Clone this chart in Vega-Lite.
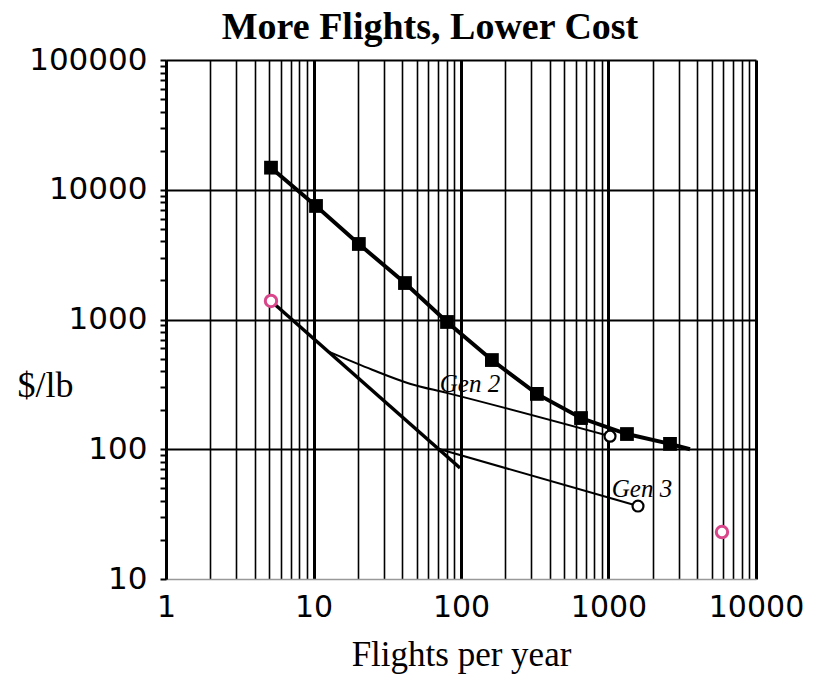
{
  "$schema": "https://vega.github.io/schema/vega-lite/v6.json",
  "width": 590,
  "height": 519,
  "autosize": {"type": "none"},
  "padding": {"left": 166, "top": 60, "right": 57, "bottom": 102},
  "background": "white",
  "title": {
    "text": "More Flights, Lower Cost",
    "font": "Liberation Serif",
    "fontSize": 38,
    "fontWeight": "bold",
    "color": "black",
    "anchor": "middle",
    "dx": -31,
    "offset": -3
  },
  "config": {"view": {"stroke": null}},
  "datasets": {
    "main": [
      {"x": 5.15, "y": 14800, "o": 1, "marker": true},
      {"x": 10.4, "y": 7500, "o": 2, "marker": true},
      {"x": 20.3, "y": 3820, "o": 3, "marker": true},
      {"x": 41.7, "y": 1910, "o": 4, "marker": true},
      {"x": 80.4, "y": 957, "o": 5, "marker": true},
      {"x": 162, "y": 487, "o": 6, "marker": true},
      {"x": 327, "y": 267, "o": 7, "marker": true},
      {"x": 651, "y": 174, "o": 8, "marker": true},
      {"x": 1334, "y": 131, "o": 9, "marker": true},
      {"x": 2612, "y": 110, "o": 10, "marker": true},
      {"x": 3570, "y": 100, "o": 11, "marker": false}
    ],
    "low": [
      {"x": 5.15, "y": 1390, "o": 1},
      {"x": 98.5, "y": 71.7, "o": 2}
    ],
    "gens": [
      {"series": "Gen 2", "x": 12.9, "y": 560, "o": 1},
      {"series": "Gen 2", "x": 25, "y": 410, "o": 2},
      {"series": "Gen 2", "x": 45, "y": 320, "o": 3},
      {"series": "Gen 2", "x": 80, "y": 272, "o": 4},
      {"series": "Gen 2", "x": 1024, "y": 126, "o": 5},
      {"series": "Gen 3", "x": 72, "y": 100, "o": 1},
      {"series": "Gen 3", "x": 1585, "y": 36.5, "o": 2}
    ],
    "ends": [
      {"series": "Gen 2", "x": 1024, "y": 126},
      {"series": "Gen 3", "x": 1585, "y": 36.5}
    ],
    "pink": [
      {"x": 5.15, "y": 1390},
      {"x": 5880, "y": 23}
    ],
    "labels": [
      {"x": 115, "y": 318, "label": "Gen 2"},
      {"x": 1687, "y": 49.4, "label": "Gen 3"}
    ]
  },
  "encoding": {
    "x": {
      "field": "x",
      "type": "quantitative",
      "scale": {"type": "log", "domain": [1, 10000], "nice": false},
      "axis": {
        "values": [1,2,3,4,5,6,7,8,9,10,20,30,40,50,60,70,80,90,100,200,300,400,500,600,700,800,900,1000,2000,3000,4000,5000,6000,7000,8000,9000,10000],
        "title": "Flights  per year",
        "titleFont": "Liberation Serif",
        "titleFontSize": 35,
        "titleFontWeight": "normal",
        "titleColor": "black",
        "titleY": 75,
        "titleBaseline": "middle",
        "labelExpr": "indexof([1,10,100,1000,10000], datum.value) >= 0 ? format(datum.value, 'd') : ''",
        "labelFont": "DejaVu Sans",
        "labelFontSize": 30,
        "labelColor": "black",
        "labelPadding": 13,
        "labelOverlap": false,
        "labelFlush": false,
        "ticks": false,
        "domainColor": "#999999",
        "domainWidth": 1.5,
        "grid": true,
        "gridColor": "black",
        "gridOpacity": 1,
        "gridWidth": {"condition": {"test": "indexof([1,10,100,1000,10000], datum.value) >= 0", "value": 3}, "value": 1.6}
      }
    },
    "y": {
      "field": "y",
      "type": "quantitative",
      "scale": {"type": "log", "domain": [10, 100000], "nice": false},
      "axis": {
        "values": [10,20,30,40,50,60,70,80,90,100,200,300,400,500,600,700,800,900,1000,2000,3000,4000,5000,6000,7000,8000,9000,10000,20000,30000,40000,50000,60000,70000,80000,90000,100000],
        "title": "$/lb",
        "titleAngle": 0,
        "titleX": -121,
        "titleY": 325,
        "titleAlign": "center",
        "titleBaseline": "middle",
        "titleFont": "Liberation Serif",
        "titleFontSize": 36,
        "titleFontWeight": "normal",
        "titleColor": "black",
        "labelExpr": "indexof([10,100,1000,10000,100000], datum.value) >= 0 ? format(datum.value, 'd') : ''",
        "labelFont": "DejaVu Sans",
        "labelFontSize": 31,
        "labelColor": "black",
        "labelPadding": 13,
        "labelOverlap": false,
        "labelFlush": false,
        "tickSize": 6,
        "tickWidth": 2,
        "tickColor": "black",
        "domainColor": "black",
        "domainWidth": 3,
        "grid": true,
        "gridColor": "black",
        "gridWidth": 2,
        "gridOpacity": {"condition": {"test": "indexof([100,1000,10000,100000], datum.value) >= 0", "value": 1}, "value": 0}
      }
    }
  },
  "layer": [
    {
      "data": {"name": "main"},
      "mark": {"type": "line", "color": "black", "strokeWidth": 4},
      "encoding": {"order": {"field": "o"}}
    },
    {
      "data": {"name": "low"},
      "mark": {"type": "line", "color": "black", "strokeWidth": 3.5},
      "encoding": {"order": {"field": "o"}}
    },
    {
      "data": {"name": "gens"},
      "mark": {"type": "line", "color": "black", "strokeWidth": 2, "interpolate": "monotone"},
      "encoding": {"order": {"field": "o"}, "detail": {"field": "series"}}
    },
    {
      "data": {"name": "main"},
      "transform": [{"filter": "datum.marker"}],
      "mark": {"type": "point", "shape": "square", "filled": true, "color": "black", "size": 190, "opacity": 1}
    },
    {
      "data": {"name": "ends"},
      "mark": {"type": "point", "shape": "circle", "filled": true, "fill": "white", "stroke": "black", "strokeWidth": 2.2, "size": 120, "opacity": 1}
    },
    {
      "data": {"name": "pink"},
      "mark": {"type": "point", "shape": "circle", "filled": true, "fill": "white", "stroke": "#d9468a", "strokeWidth": 3, "size": 130, "opacity": 1}
    },
    {
      "data": {"name": "labels"},
      "mark": {"type": "text", "font": "Liberation Serif", "fontStyle": "italic", "fontSize": 25, "color": "black", "align": "center", "baseline": "middle"},
      "encoding": {"text": {"field": "label"}}
    }
  ]
}
